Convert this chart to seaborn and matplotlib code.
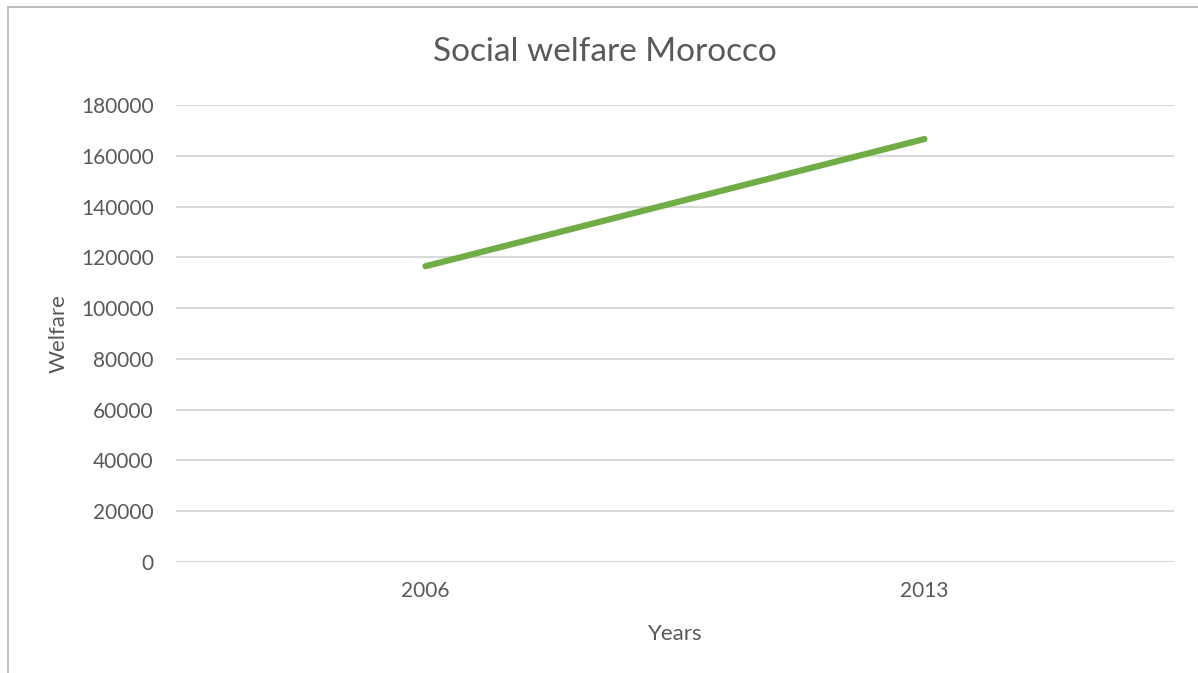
import matplotlib
matplotlib.use("Agg")
import matplotlib.pyplot as plt
import seaborn as sns
import pandas as pd
from matplotlib.patches import Rectangle

years = ["2006", "2013"]
welfare = [116500, 166600]
y_ticks = [0, 20000, 40000, 60000, 80000, 100000, 120000, 140000, 160000, 180000]

sns.set_theme(style="white")
plt.rcParams["font.family"] = ["Lato", "DejaVu Sans"]

text_color = "#595959"
grid_color = "#D9D9D9"
line_color = "#70AD47"

W, H = 1198, 673
fig = plt.figure(figsize=(W / 100, H / 100), dpi=100)
ax = fig.add_axes([176 / W, 1 - 562 / H, (1174 - 176) / W, (562 - 105) / H])

df = pd.DataFrame({"Years": years, "Welfare": welfare})
sns.lineplot(data=df, x="Years", y="Welfare", ax=ax, color=line_color,
             linewidth=4.5, solid_capstyle="round", sort=False)

ax.set_xlim(-0.5, len(years) - 0.5)
ax.set_ylim(0, 180000)
ax.set_yticks(y_ticks)
ax.set_yticklabels([str(v) for v in y_ticks])
ax.yaxis.grid(True, color=grid_color, linewidth=1.5)
ax.set_axisbelow(True)
for s in ax.spines.values():
    s.set_visible(False)
ax.tick_params(axis="both", length=0, labelsize=15, colors=text_color)
ax.tick_params(axis="y", pad=16)
ax.tick_params(axis="x", pad=14)

ax.set_xlabel("Years", fontsize=16, color=text_color, labelpad=16)
ax.set_ylabel("Welfare", fontsize=16, color=text_color, labelpad=9)
fig.text(605 / W, 1 - 52 / H, "Social welfare Morocco", ha="center", va="center",
         fontsize=24, color=text_color)

# chart frame
fig.patches.append(Rectangle((7.5 / W, -0.1), 1.2, 1 - 7.5 / H + 0.1,
                             transform=fig.transFigure, fill=False,
                             edgecolor="#BFBFBF", linewidth=1.5))

fig.savefig("out.png", dpi=100, facecolor="white")
